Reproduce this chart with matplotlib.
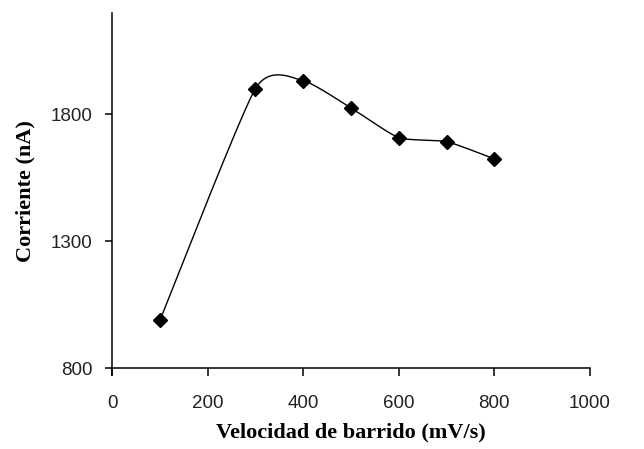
import numpy as np
import matplotlib
matplotlib.use("Agg")
import matplotlib.pyplot as plt

velocidad = [100, 300, 400, 500, 600, 700, 800]
corriente = [988, 1902, 1933, 1826, 1709, 1693, 1625]
xticks = [0, 200, 400, 600, 800, 1000]
yticks = [800, 1300, 1800]

W, H = 6.44, 4.49
fig = plt.figure(figsize=(W, H), dpi=100)
ax_rect = [0.174, 0.180, 0.742, 0.791]
ax = fig.add_axes(ax_rect)
xlim = (0, 1000)
ylim = (800, 2200)

# Excel-style smoothed line (cubic Bezier) computed in display-proportional space
x = np.array(velocidad, float)
y = np.array(corriente, float)
kx = ax_rect[2] * W / (xlim[1] - xlim[0])
ky = ax_rect[3] * H / (ylim[1] - ylim[0])
P = np.column_stack([(x - xlim[0]) * kx, (y - ylim[0]) * ky])
n = len(P)
tension = 1 / 10
curve = []
t = np.linspace(0, 1, 40)[:, None]
for i in range(n - 1):
    p0 = P[i]; p3 = P[i + 1]
    pm = P[i - 1] if i > 0 else P[i]
    pp = P[i + 2] if i + 2 < n else P[i + 1]
    c1 = p0 + (p3 - pm) * tension
    c2 = p3 - (pp - p0) * tension
    seg = (1 - t) ** 3 * p0 + 3 * (1 - t) ** 2 * t * c1 + 3 * (1 - t) * t ** 2 * c2 + t ** 3 * p3
    curve.append(seg)
curve = np.vstack(curve)
cx = curve[:, 0] / kx + xlim[0]
cy = curve[:, 1] / ky + ylim[0]

ax.plot(cx, cy, color="black", lw=1.0)
ax.plot(velocidad, corriente, linestyle="none", marker="D", markersize=7,
        color="black")

ax.set_xlim(*xlim)
ax.set_ylim(*ylim)
ax.set_xticks(xticks)
ax.set_yticks(yticks)
for s in ["top", "right"]:
    ax.spines[s].set_visible(False)
for s in ["left", "bottom"]:
    ax.spines[s].set_linewidth(1.1)
ax.spines["left"].set_bounds(ylim[0] - 25, ylim[1])
ax.tick_params(direction="out", width=1.1, labelsize=13.5)
ax.tick_params(axis="x", length=6, pad=13)
ax.tick_params(axis="y", length=5, pad=9)
for lab in ax.get_xticklabels() + ax.get_yticklabels():
    lab.set_fontfamily("Liberation Sans")
    lab.set_color("#222222")

ax.set_xlabel("Velocidad de barrido (mV/s)", fontfamily="Liberation Serif",
              fontweight="bold", fontsize=16, labelpad=8)
ax.set_ylabel("Corriente (nA)", fontfamily="Liberation Serif",
              fontweight="bold", fontsize=16, labelpad=11)

fig.savefig("out.png", dpi=100)
